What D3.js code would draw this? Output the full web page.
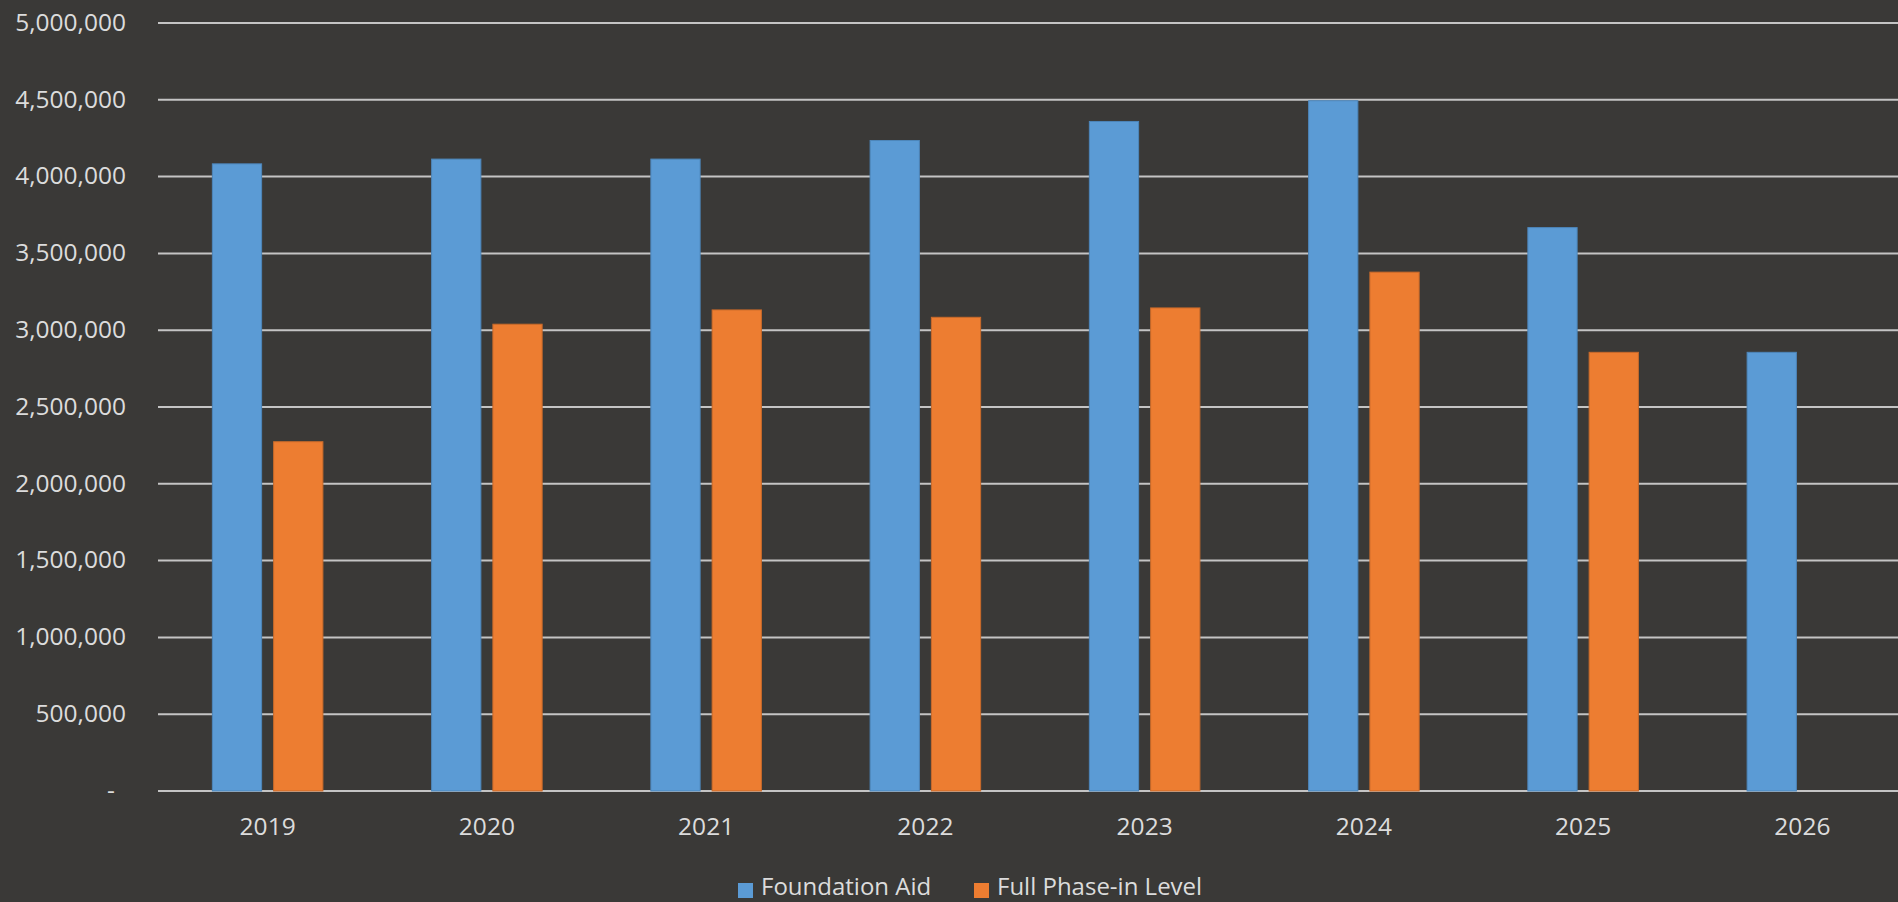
<!DOCTYPE html>
<html>
<head>
<meta charset="utf-8">
<script src="https://cdn.jsdelivr.net/npm/d3@7"></script>
<style>
  html, body { margin: 0; padding: 0; background: #3a3937; overflow: hidden; }
  svg { display: block; }
  text { font-family: "Open Sans", "Liberation Sans", sans-serif; fill: #dcdcdc; }
</style>
</head>
<body>
<svg id="chart" width="1898" height="902"></svg>
<script>
// Fiscal years on the category axis
const years = ["2019", "2020", "2021", "2022", "2023", "2024", "2025", "2026"];

// Series names shown in the legend
const seriesNames = ["Foundation Aid", "Full Phase-in Level"];

// Foundation Aid by year
const foundationAid = [4083000, 4114000, 4114000, 4235000, 4359000, 4494000, 3668000, 2856000];

// Full phase-in level by year (no value for 2026)
const fullPhaseIn = [2274000, 3039000, 3132000, 3084000, 3145000, 3378000, 2856000, null];

// Value-axis ticks
const yTicks = [0, 500000, 1000000, 1500000, 2000000, 2500000, 3000000, 3500000, 4000000, 4500000, 5000000];

const colors = { "Foundation Aid": "#5b9bd5", "Full Phase-in Level": "#ed7d31" };
const strokes = { "Foundation Aid": "#4d86ba", "Full Phase-in Level": "#c96a2a" };

const rows = years.map((yr, i) => ({
  year: yr,
  values: [
    { key: seriesNames[0], value: foundationAid[i] },
    { key: seriesNames[1], value: fullPhaseIn[i] }
  ]
}));

const svg = d3.select("#chart");
const plot = { left: 158, right: 1912, top: 23, bottom: 791 };

const x0 = d3.scaleBand().domain(years).range([plot.left, plot.right]).paddingInner(0).paddingOuter(0);
const x1 = d3.scaleBand().domain(seriesNames).range([0, x0.bandwidth()])
  .paddingInner(0.196).paddingOuter(0.887);
const y = d3.scaleLinear().domain([0, 5000000]).range([plot.bottom, plot.top]);

// Horizontal gridlines
svg.append("g")
  .selectAll("line")
  .data(yTicks)
  .join("line")
  .attr("x1", plot.left)
  .attr("x2", plot.right)
  .attr("y1", d => y(d))
  .attr("y2", d => y(d))
  .attr("stroke", "#c4c4c4")
  .attr("stroke-width", 2);

// Value-axis labels (accounting style: zero shows as a dash)
const fmt = d3.format(",");
const yAxis = d3.axisLeft(y)
  .tickValues(yTicks)
  .tickSize(0)
  .tickPadding(0)
  .tickFormat(d => d === 0 ? "-" : fmt(d));
const yg = svg.append("g")
  .attr("transform", "translate(126,0)")
  .call(yAxis);
yg.select(".domain").remove();
yg.selectAll("text")
  .attr("font-size", 24.5)
  .attr("dy", "0.3em")
  .attr("dx", d => d === 0 ? -11 : 0)
  .attr("fill", "#dcdcdc");

// Clustered bars
const groups = svg.append("g")
  .selectAll("g")
  .data(rows)
  .join("g")
  .attr("transform", d => `translate(${x0(d.year)},0)`);

groups.selectAll("rect")
  .data(d => d.values.filter(v => v.value != null))
  .join("rect")
  .attr("x", d => x1(d.key))
  .attr("width", x1.bandwidth())
  .attr("y", d => y(d.value))
  .attr("height", d => y(0) - y(d.value))
  .attr("fill", d => colors[d.key])
  .attr("stroke", d => strokes[d.key])
  .attr("stroke-width", 1);

// Category-axis labels
const xAxis = d3.axisBottom(x0).tickSize(0).tickPadding(0);
const xg = svg.append("g")
  .attr("transform", `translate(0,${plot.bottom})`)
  .call(xAxis);
xg.select(".domain").remove();
xg.selectAll("text")
  .attr("font-size", 24.5)
  .attr("dy", "0")
  .attr("y", 44)
  .attr("fill", "#dcdcdc");

// Legend along the bottom edge
const legend = svg.append("g").attr("transform", "translate(738,895)");
const legendX = [0, 236];
const items = legend.selectAll("g")
  .data(seriesNames)
  .join("g")
  .attr("transform", (d, i) => `translate(${legendX[i]},0)`);
items.append("rect")
  .attr("x", 0)
  .attr("y", -12)
  .attr("width", 15)
  .attr("height", 15)
  .attr("fill", d => colors[d]);
items.append("text")
  .attr("x", 23)
  .attr("y", 0)
  .attr("font-size", 24)
  .text(d => d);
</script>
</body>
</html>
